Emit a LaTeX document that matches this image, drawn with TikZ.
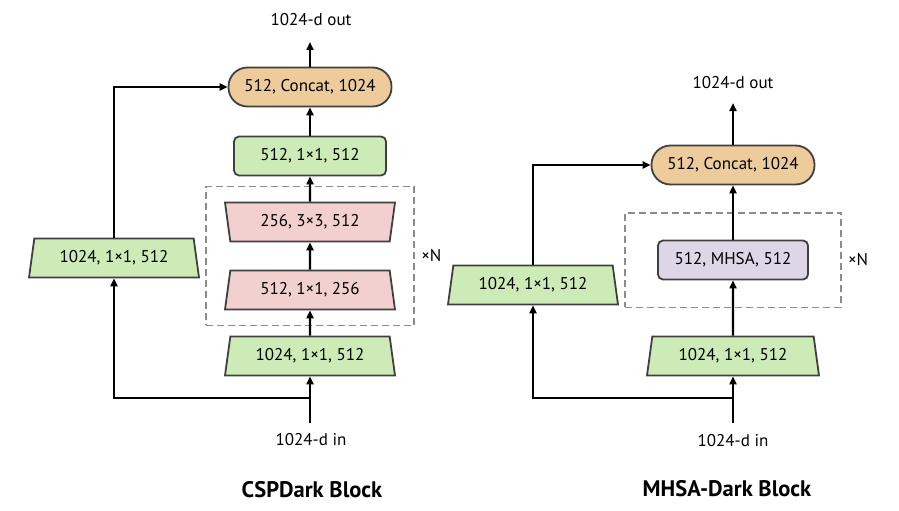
\documentclass[tikz,border=0pt]{standalone}
\usepackage{fontspec}
\setmainfont{PT Sans}
\usetikzlibrary{positioning,shapes.geometric,arrows.meta,fit}

\definecolor{paleGreen}{HTML}{CDEBB6}
\definecolor{paleRose}{HTML}{F2D0CF}
\definecolor{sandTan}{HTML}{EDCB9B}
\definecolor{paleLilac}{HTML}{DDD6E7}
\definecolor{edgeGray}{HTML}{404040}
\definecolor{dashGray}{HTML}{8C8C8C}

\tikzset{
    txt/.style={font=\fontsize{17}{19}\selectfont, inner sep=0pt},
    blk/.style={txt, draw=edgeGray, line width=1.8pt, minimum height=39pt},
    convbox/.style={blk, rectangle, rounded corners=5pt, minimum width=152pt},
    catbox/.style={blk, rectangle, rounded corners=19pt, fill=sandTan, minimum width=163pt},
    widen/.style={blk, trapezium, trapezium stretches body, trapezium left angle=70,
        trapezium right angle=70, minimum width=170pt},
    narrow/.style={widen, shape border rotate=180},
    loopbox/.style={draw=dashGray, dash pattern=on 7pt off 4pt, line width=1.8pt, inner sep=0pt},
    flow/.style={-{Triangle[length=8pt,width=7pt]}, line width=2.3pt},
    wire/.style={line width=2.3pt},
    title/.style={font=\fontsize{22.5}{26}\selectfont\bfseries}
}

\begin{document}
\begin{tikzpicture}[x=1pt, y=-1pt]
    \useasboundingbox (0,0) rectangle (899,511);

    % CSPDark block
    \node[catbox] (cspCat) at (310,87) {512, Concat, 1024};
    \node[convbox, fill=paleGreen] (cspFuse) at (310,156) {512, 1×1, 512};
    \node[narrow, fill=paleRose] (cspExp) at (310,222) {256, 3×3, 512};
    \node[widen, fill=paleRose] (cspRed) at (310,290) {512, 1×1, 256};
    \node[widen, fill=paleGreen] (cspIn) at (310,356) {1024, 1×1, 512};
    \node[widen, fill=paleGreen] (cspSide) at (114,258) {1024, 1×1, 512};
    \node[loopbox, fit=(cspExp)(cspRed), inner xsep=21pt, inner ysep=15pt] (cspLoop) {};
    \node[txt, right=6pt of cspLoop] (cspRep) {×N};
    \node[txt] (cspOutTxt) at (311,20) {1024-d out};
    \node[txt] (cspInTxt) at (311,440) {1024-d in};
    \node[title] (cspTitle) at (312,490) {CSPDark Block};
    \coordinate (cspOutTip) at (310,42);
    \coordinate (cspSrc) at (310,423);
    \coordinate (cspSplit) at (310,398);

    \draw[wire] (cspSrc) -- (cspSplit);
    \draw[flow] (cspSplit) -- (cspIn);
    \draw[flow] (cspSplit) -| (cspSide);
    \draw[flow] (cspIn) -- (cspRed);
    \draw[flow] (cspRed) -- (cspExp);
    \draw[flow] (cspExp) -- (cspFuse);
    \draw[flow] (cspFuse) -- (cspCat);
    \draw[flow] (cspSide) |- (cspCat);
    \draw[flow] (cspCat) -- (cspOutTip);

    % MHSA-Dark block
    \node[catbox] (mhsaCat) at (733,165) {512, Concat, 1024};
    \node[convbox, fill=paleLilac, minimum width=150pt] (mhsaAttn) at (733,260) {512, MHSA, 512};
    \node[widen, fill=paleGreen, minimum width=172pt] (mhsaIn) at (733,356) {1024, 1×1, 512};
    \node[widen, fill=paleGreen] (mhsaSide) at (533,285) {1024, 1×1, 512};
    \node[loopbox, fit=(mhsaAttn), inner xsep=32pt, inner ysep=27pt] (mhsaLoop) {};
    \node[txt, right=6pt of mhsaLoop] (mhsaRep) {×N};
    \node[txt] (mhsaOutTxt) at (733,83) {1024-d out};
    \node[txt] (mhsaInTxt) at (733,441) {1024-d in};
    \node[title] (mhsaTitle) at (727,489) {MHSA-Dark Block};
    \coordinate (mhsaOutTip) at (733,103);
    \coordinate (mhsaSrc) at (733,423);
    \coordinate (mhsaSplit) at (733,398);

    \draw[wire] (mhsaSrc) -- (mhsaSplit);
    \draw[flow] (mhsaSplit) -- (mhsaIn);
    \draw[flow] (mhsaSplit) -| (mhsaSide);
    \draw[flow] (mhsaIn) -- (mhsaAttn);
    \draw[flow] (mhsaAttn) -- (mhsaCat);
    \draw[flow] (mhsaSide) |- (mhsaCat);
    \draw[flow] (mhsaCat) -- (mhsaOutTip);
\end{tikzpicture}
\end{document}
